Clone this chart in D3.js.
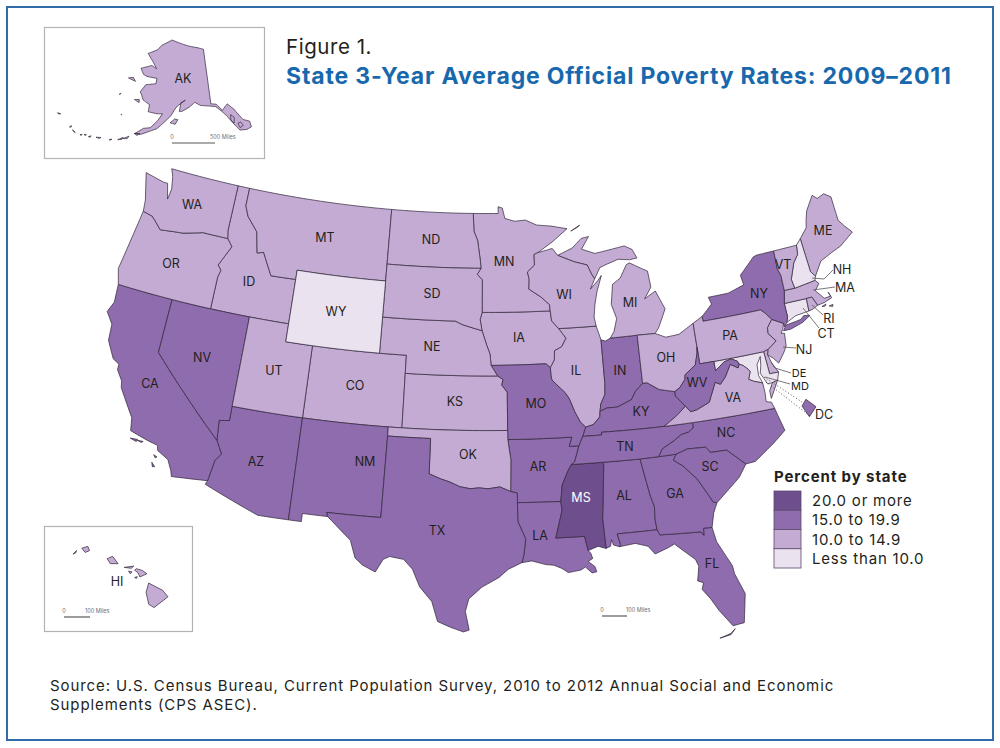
<!DOCTYPE html>
<html>
<head>
<meta charset="utf-8">
<script src="https://cdn.jsdelivr.net/npm/d3@7"></script>
<style>
  html, body { margin: 0; padding: 0; background: #fff; }
  svg { display: block; }
  text { font-family: Inter, "Open Sans", sans-serif; fill: #231f20; }
</style>
</head>
<body>
<svg id="map" width="1000" height="748"></svg>
<script>
// rate class per state: 0 = less than 10, 1 = 10-14.9, 2 = 15-19.9, 3 = 20 or more
const stateIds = ["AL","AK","AZ","AR","CA","CO","CT","DE","DC","FL","GA","HI","ID","IL","IN","IA","KS","KY","LA","ME","MD","MA","MI","MN","MS","MO","MT","NE","NV","NH","NJ","NM","NY","NC","ND","OH","OK","OR","PA","RI","SC","SD","TN","TX","UT","VT","VA","WA","WV","WI","WY"];
const stateClass = [2,1,2,2,2,1,0,1,2,2,2,1,1,1,2,1,1,2,2,1,0,1,1,1,3,2,1,1,2,0,1,2,2,2,1,1,1,1,1,1,2,1,2,2,1,1,1,1,2,1,0];
const classLabels = ["Less than 10.0","10.0 to 14.9","15.0 to 19.9","20.0 or more"];
const classColors = ["#ebe2f0","#c3abd3","#8f6cae","#6f4e8e"];

// shared borders, lon/lat
const stCroix = [[-92.29,46.66],[-92.29,46.07],[-92.87,45.7],[-92.75,45.3],[-92.8,44.75],[-91.9,44.3],[-91.25,43.85],[-91.22,43.5]];
const missIaWi = [[-91.22,43.5],[-91.15,42.95],[-90.65,42.5]];
const missIaIl = [[-90.65,42.5],[-90.15,41.95],[-90.5,41.5],[-91.05,41.3],[-91.1,40.8],[-91.42,40.38]];
const missMoIl = [[-91.42,40.38],[-91.4,39.93],[-91.35,39.7],[-91.05,39.45],[-90.45,38.96],[-90.18,38.63],[-89.85,37.9],[-89.5,37.3],[-89.15,37.0]];
const missMoKy = [[-89.15,37.0],[-89.4,36.5]];
const missMoTn = [[-89.4,36.5],[-89.7,36.0]];
const missArTn = [[-89.7,36.0],[-90.07,35.13],[-90.3,35.0]];
const missArMs = [[-90.3,35.0],[-90.6,34.6],[-91.0,33.9],[-91.15,33.0]];
const missLaMs = [[-91.15,33.0],[-91.1,32.5],[-91.4,31.6],[-91.6,31.0],[-89.73,31.0],[-89.55,30.2]];
const ohioIlKy = [[-89.15,37.0],[-88.6,37.1],[-88.1,37.5],[-88.05,37.8]];
const ohioInKy = [[-88.05,37.8],[-87.55,37.95],[-86.8,37.95],[-85.75,38.27],[-85.4,38.7],[-84.82,39.1]];
const ohioOhKy = [[-84.82,39.1],[-84.5,39.1],[-83.7,38.65],[-82.6,38.42]];
const ohioOhWv = [[-82.6,38.42],[-82.2,38.6],[-81.75,39.0],[-81.7,39.25],[-80.85,39.7],[-80.6,40.3],[-80.52,40.64]];
const kyWv = [[-82.6,38.42],[-82.6,38.17],[-82.0,37.54]];
const kyVa = [[-82.0,37.54],[-82.7,37.1],[-83.68,36.6]];
const tnKy = [[-83.68,36.6],[-88.07,36.65],[-88.07,36.5],[-89.4,36.5]];
const tnNc = [[-81.68,36.59],[-81.7,36.3],[-82.05,36.12],[-82.6,36.03],[-83.1,35.77],[-84.0,35.4],[-84.32,34.99]];
const ncSc = [[-83.11,35.0],[-82.3,35.2],[-81.05,35.15],[-80.78,34.82],[-79.67,34.8],[-78.55,33.86]];
const gaSc = [[-83.11,35.0],[-83.35,34.7],[-82.75,34.3],[-81.95,33.5],[-81.4,32.6],[-81.12,32.1],[-80.88,32.03]];
const gaAl = [[-85.6,34.98],[-85.18,32.87],[-85.0,32.3],[-85.05,31.55],[-85.0,31.0]];
const gaFl = [[-85.0,31.0],[-84.86,30.7],[-82.2,30.57],[-82.05,30.36],[-82.0,30.75],[-81.45,30.72]];
const alFl = [[-85.0,31.0],[-87.6,31.0],[-87.45,30.4],[-87.52,30.28]];
const alMs = [[-88.2,35.0],[-88.1,34.9],[-88.47,31.9],[-88.4,30.25]];
const txLa = [[-93.84,29.7],[-93.7,30.1],[-93.55,31.0],[-94.04,31.99],[-94.04,33.02]];
const redRiver = [[-94.48,33.64],[-95.2,33.9],[-96.0,33.8],[-96.6,33.85],[-97.2,33.8],[-97.9,33.9],[-98.6,34.15],[-99.2,34.3],[-100.0,34.56]];
const moKs = [[-94.62,37.0],[-94.61,39.1],[-95.0,39.5],[-94.9,39.8],[-95.3,40.0]];
const neMo = [[-95.3,40.0],[-95.77,40.58]];
const neIa = [[-95.77,40.58],[-95.85,41.2],[-96.1,41.7],[-96.45,42.49]];
const sdIa = [[-96.45,42.49],[-96.6,43.1],[-96.45,43.5]];
const sdMn = [[-96.45,43.5],[-96.45,45.3],[-96.85,45.6],[-96.56,45.94]];
const ndMn = [[-96.56,45.94],[-96.6,46.3],[-96.85,47.5],[-97.15,48.0],[-97.23,49.0]];
const neSd = [[-96.45,42.49],[-97.9,42.8],[-98.5,43.0],[-104.05,43.0]];
const wabash = [[-87.53,39.35],[-87.6,38.7],[-87.95,38.2],[-88.05,37.8]];
const wiMi = [[-90.4,46.55],[-89.1,46.13],[-88.1,45.9],[-87.8,45.35],[-87.6,45.1]];
const vaWv = [[-77.72,39.32],[-77.83,39.13],[-78.35,39.4],[-78.87,38.76],[-79.3,38.42],[-79.65,38.58],[-80.3,37.55],[-81.25,37.25],[-81.7,37.2],[-82.0,37.54]];
const potomacN = [[-79.48,39.2],[-78.75,39.6],[-78.2,39.68],[-77.8,39.5],[-77.72,39.32]];
const potomacS = [[-77.72,39.32],[-77.45,39.2],[-77.12,38.93],[-77.04,38.79],[-77.25,38.4],[-76.95,38.25],[-76.32,38.05]];
const delawareR = [[-74.7,41.36],[-75.13,40.97],[-75.2,40.65],[-74.73,40.15],[-75.42,39.8]];
const idMt = [[-116.05,49.0],[-116.05,48.0],[-115.7,47.45],[-114.75,46.7],[-114.4,45.55],[-113.9,45.65],[-113.45,45.05],[-113.0,44.45],[-111.05,44.48]];
const idOr = [[-117.03,42.0],[-117.03,43.8],[-116.9,44.2],[-117.2,44.45],[-116.85,45.0],[-116.46,45.6],[-116.92,46.0]];
const columbia = [[-116.92,46.0],[-118.98,46.0],[-119.3,45.93],[-120.5,45.7],[-121.2,45.65],[-122.3,45.55],[-122.8,45.9],[-123.2,46.15],[-124.0,46.27]];
const azCa = [[-114.72,32.72],[-114.5,33.9],[-114.15,34.3],[-114.63,35.0]];
const azNv = [[-114.63,35.0],[-114.75,36.1],[-114.05,36.2],[-114.05,37.0]];
const vtNh = [[-71.5,45.01],[-71.6,44.5],[-72.05,44.1],[-72.55,43.25],[-72.46,42.73]];
const meNh = [[-71.08,45.3],[-70.98,43.4],[-70.7,43.08]];
const nyVt = [[-73.35,45.01],[-73.4,44.0],[-73.25,43.6],[-73.27,42.75]];
const riMa = [[-71.8,42.02],[-71.38,42.02],[-71.2,41.67],[-71.12,41.5]];
const rev = a => a.slice().reverse();

const stateRings = {
  WA: [[[-122.76,49.0],[-117.03,49.0],[-117.04,46.42],[-116.92,46.0],...columbia.slice(1),[-124.1,46.9],[-124.7,48.38],[-123.1,48.15],[-122.75,48.15],[-122.4,47.3],[-122.3,47.9],[-122.5,48.6]]],
  OR: [[[-124.0,46.27],...rev(columbia),...rev(idOr),[-120.0,42.0],[-124.2,42.0],[-124.55,42.84]]],
  CA: [[[-124.2,42.0],[-120.0,42.0],[-120.0,39.0],...rev(azCa),[-117.12,32.53],[-117.25,32.85],[-117.6,33.4],[-118.4,33.75],[-118.5,34.03],[-119.2,34.15],[-120.5,34.45],[-120.65,35.15],[-121.9,36.6],[-122.0,36.96],[-122.5,37.5],[-122.5,37.8],[-123.0,38.0],[-123.7,38.9],[-123.8,39.8],[-124.4,40.4],[-124.1,41.0]],
       [[-120.4,34.05],[-119.9,34.08],[-119.95,33.95]],[[-119.9,34.03],[-119.5,34.05],[-119.6,33.97]],[[-118.6,33.48],[-118.35,33.4],[-118.45,33.33]],[[-118.6,33.05],[-118.35,32.85],[-118.5,32.82]]],
  NV: [[[-120.0,42.0],[-117.03,42.0],[-114.04,42.0],...rev(azNv),[-120.0,39.0]]],
  ID: [[[-117.03,49.0],...idMt,[-111.05,42.0],[-114.04,42.0],...idOr,[-117.04,46.42]]],
  MT: [[[-116.05,49.0],[-104.05,49.0],[-104.05,45.94],[-104.05,45.0],[-111.05,45.0],...rev(idMt)]],
  WY: [[[-111.05,45.0],[-104.05,45.0],[-104.05,43.0],[-104.05,41.0],[-111.05,41.0],[-111.05,42.0]]],
  UT: [[[-114.04,42.0],[-111.05,42.0],[-111.05,41.0],[-109.05,41.0],[-109.05,37.0],[-114.05,37.0]]],
  CO: [[[-109.05,41.0],[-102.05,41.0],[-102.05,40.0],[-102.04,37.0],[-103.0,37.0],[-109.05,37.0]]],
  AZ: [[[-114.05,37.0],[-109.05,37.0],[-109.05,31.33],[-111.07,31.33],[-114.82,32.5],...azCa,...azNv.slice(1)]],
  NM: [[[-109.05,37.0],[-103.0,37.0],[-103.0,36.5],[-103.05,32.0],[-106.62,32.0],[-106.53,31.78],[-108.2,31.78],[-108.2,31.33],[-109.05,31.33]]],
  ND: [[[-104.05,49.0],[-97.23,49.0],...rev(ndMn),[-104.05,45.94]]],
  SD: [[[-104.05,45.94],[-96.56,45.94],...rev(sdMn),...rev(sdIa),...neSd.slice(1)]],
  NE: [[...neSd,[-104.05,41.0],[-102.05,41.0],[-102.05,40.0],[-95.3,40.0],...neMo.slice(1),...neIa.slice(1,-1)]],
  KS: [[[-102.05,40.0],...rev(moKs),[-102.04,37.0]]],
  OK: [[[-103.0,37.0],[-102.04,37.0],[-94.62,37.0],[-94.62,36.5],[-94.43,35.4],...redRiver,[-100.0,36.5],[-103.0,36.5]]],
  TX: [[[-103.0,36.5],[-100.0,36.5],...rev(redRiver),[-94.04,33.55],...rev(txLa),[-94.7,29.35],[-95.3,28.9],[-96.4,28.35],[-97.2,27.7],[-97.4,27.0],[-97.15,25.96],[-97.5,25.85],[-98.3,26.1],[-99.1,26.4],[-99.5,27.5],[-100.3,28.3],[-100.8,29.25],[-101.4,29.77],[-102.3,29.88],[-102.7,29.7],[-103.15,28.97],[-104.0,29.3],[-104.5,29.65],[-104.9,30.6],[-106.0,31.4],[-106.53,31.78],[-106.62,32.0],[-103.05,32.0]]],
  MN: [[[-97.23,49.0],[-95.15,49.0],[-95.15,49.38],[-94.8,49.3],[-94.6,48.72],[-93.8,48.55],[-92.9,48.6],[-92.0,48.3],[-90.8,48.2],[-89.5,48.0],[-90.8,47.3],[-92.0,46.75],...stCroix,[-96.45,43.5],...sdMn.slice(1),...ndMn.slice(1,-1)]],
  IA: [[[-96.45,43.5],[-91.22,43.5],...missIaWi.slice(1),...missIaIl.slice(1),[-91.73,40.6],...neIa,...sdIa.slice(1,-1)]],
  MO: [[[-95.77,40.58],[-91.73,40.6],...missMoIl,...missMoKy.slice(1),...missMoTn.slice(1),[-90.37,36.0],[-90.15,36.5],[-94.62,36.5],...moKs,...neMo.slice(1)]],
  AR: [[[-94.62,36.5],[-90.15,36.5],[-90.37,36.0],...missArTn,...missArMs.slice(1),[-94.04,33.02],[-94.04,33.55],[-94.48,33.64],[-94.43,35.4]]],
  LA: [[[-94.04,33.02],...missLaMs,[-89.4,30.05],[-89.3,29.75],[-89.6,29.6],[-89.2,29.3],[-89.1,29.0],[-89.4,28.95],[-89.8,29.3],[-90.1,29.15],[-90.9,29.05],[-91.3,29.3],[-91.8,29.5],[-92.3,29.55],[-93.2,29.78],...txLa.slice(0,-1)]],
  WI: [[[-92.29,46.66],[-92.0,46.75],[-90.8,46.95],...wiMi,[-88.0,44.55],[-87.35,45.0],[-87.05,45.25],[-87.5,44.4],[-87.75,43.7],[-87.9,43.0],[-87.8,42.49],[-90.65,42.5],...rev(missIaWi).slice(1),...rev(stCroix).slice(1,-1)]],
  IL: [[[-90.65,42.5],[-87.8,42.49],[-87.53,41.71],...wabash,...rev(ohioIlKy).slice(1),...rev(missMoIl).slice(1),...rev(missIaIl).slice(1,-1)]],
  IN: [[[-87.53,41.71],[-87.2,41.62],[-86.82,41.76],[-84.8,41.76],[-84.82,39.1],...rev(ohioInKy).slice(1),...rev(wabash).slice(1)]],
  OH: [[[-84.8,41.76],[-83.45,41.73],[-82.7,41.45],[-81.7,41.5],[-80.52,41.98],...rev(ohioOhWv),...rev(ohioOhKy).slice(1)]],
  KY: [[...ohioIlKy,...ohioInKy.slice(1),...ohioOhKy.slice(1),...kyWv.slice(1),...kyVa.slice(1),...tnKy.slice(1)]],
  TN: [[[-83.68,36.6],[-81.68,36.59],...tnNc.slice(1),[-85.6,34.98],[-88.2,35.0],[-90.3,35.0],...rev(missArTn).slice(1),...rev(missMoTn).slice(1),...rev(tnKy).slice(1,-1)]],
  MS: [[...missArMs,...missLaMs.slice(1),[-88.9,30.4],...rev(alMs)]],
  AL: [[[-88.2,35.0],...gaAl,...alFl.slice(1),[-87.9,30.4],[-88.0,30.7],[-88.1,30.35],...rev(alMs).slice(0,-1)]],
  GA: [[...gaAl,...gaFl.slice(1),[-81.2,31.5],...rev(gaSc),[-84.32,34.99]]],
  FL: [[[-87.52,30.28],[-86.5,30.38],[-85.7,30.15],[-85.3,29.68],[-84.4,29.95],[-84.0,30.1],[-83.4,29.6],[-82.8,29.1],[-82.65,28.7],[-82.85,27.9],[-82.5,27.75],[-82.65,27.4],[-82.2,26.8],[-81.8,26.1],[-81.1,25.13],[-80.4,25.2],[-80.05,26.8],[-80.5,28.0],[-80.55,28.45],[-81.3,29.9],...rev(gaFl),...alFl.slice(1)],
       [[-81.0,24.95],[-81.3,24.72],[-82.0,24.55],[-81.3,24.66]]],
  SC: [[...ncSc,[-79.15,33.2],[-79.9,32.7],...rev(gaSc).slice(0,-1)]],
  NC: [[[-84.32,34.99],...rev(tnNc),[-75.87,36.55],[-75.5,35.25],[-76.5,34.65],[-77.9,33.9],...rev(ncSc)]],
  VA: [[[-83.68,36.6],[-81.68,36.59],[-75.87,36.55],[-76.0,36.92],[-76.35,37.0],[-76.3,37.5],[-76.32,38.05],...rev(potomacS),...vaWv.slice(1),...kyVa.slice(1)],
       [[-75.65,37.95],[-75.24,38.03],[-75.95,37.12],[-75.95,37.55]]],
  WV: [[[-80.52,40.64],[-80.52,39.72],[-79.48,39.72],...potomacN,...vaWv.slice(1),...rev(kyWv).slice(1),...ohioOhWv.slice(1,-1)]],
  MD: [[[-75.79,39.72],[-79.48,39.72],...potomacN,...potomacS.slice(1),[-76.5,38.5],[-76.45,39.1],[-76.1,39.5],[-76.2,39.0],[-76.35,38.6],[-76.0,37.95],[-75.65,37.95],[-75.24,38.03],[-75.05,38.45],[-75.7,38.46]]],
  DE: [[[-75.79,39.72],[-75.42,39.8],[-75.55,39.5],[-75.4,39.05],[-75.05,38.45],[-75.7,38.46]]],
  PA: [[[-80.52,41.98],[-79.76,42.27],[-79.76,42.0],[-75.35,42.0],[-75.05,41.75],...delawareR,[-75.79,39.72],[-79.48,39.72],[-80.52,39.72],[-80.52,40.64]]],
  NJ: [[[-73.9,41.0],...delawareR,[-75.55,39.5],[-75.2,39.25],[-74.9,38.93],[-74.4,39.4],[-74.1,39.75],[-74.0,40.45],[-74.25,40.5],[-74.05,40.7]]],
  NY: [[[-79.76,42.27],[-78.9,42.85],[-79.05,43.25],[-77.5,43.27],[-76.2,43.55],[-76.3,44.1],[-75.0,44.95],[-74.7,45.0],...nyVt,[-73.5,42.05],[-73.5,41.3],[-73.65,41.0],[-73.9,40.8],[-73.9,41.0],[-74.7,41.36],[-75.05,41.75],[-75.35,42.0],[-79.76,42.0]],
       [[-74.03,40.6],[-73.75,40.87],[-72.6,40.98],[-72.3,41.15],[-71.87,41.07],[-72.5,40.8],[-73.5,40.59]]],
  CT: [[[-73.5,42.05],[-71.8,42.02],[-71.85,41.32],[-72.9,41.25],[-73.65,41.0],[-73.5,41.3]]],
  RI: [[...riMa,[-71.5,41.37],[-71.85,41.32]]],
  MA: [[[-73.27,42.75],[-72.46,42.73],[-70.82,42.87],[-70.6,42.65],[-71.0,42.3],[-70.65,41.95],[-70.5,41.78],[-70.0,41.8],[-70.1,42.05],[-69.95,41.7],[-70.6,41.55],...rev(riMa),[-73.5,42.05]],
       [[-70.83,41.37],[-70.48,41.45],[-70.6,41.35]],[[-70.3,41.3],[-70.0,41.33],[-70.05,41.22]]],
  VT: [[...nyVt,...rev(vtNh)]],
  NH: [[...vtNh,[-70.82,42.87],...rev(meNh)]],
  ME: [[[-71.08,45.3],[-70.4,45.8],[-70.25,46.2],[-70.0,46.7],[-69.23,47.45],[-68.9,47.2],[-68.3,47.35],[-67.8,47.07],[-67.8,45.7],[-67.45,45.3],[-67.0,44.85],[-68.2,44.3],[-69.0,44.1],[-70.0,43.8],...rev(meNh)]],
  MI: [[[-86.82,41.76],[-86.5,42.1],[-86.2,42.8],[-86.5,43.6],[-86.25,44.7],[-85.6,45.0],[-85.0,45.7],[-84.75,45.78],[-83.4,45.2],[-83.3,44.3],[-83.9,43.7],[-83.0,44.05],[-82.45,43.0],[-82.9,42.35],[-83.15,42.0],[-83.45,41.73],[-84.8,41.76]],
       [[-90.4,46.55],[-89.2,46.9],[-88.4,47.4],[-87.8,47.47],[-88.45,46.8],[-87.4,46.5],[-85.0,46.75],[-84.4,46.5],[-84.1,46.0],[-84.7,45.95],[-85.6,46.05],[-86.5,45.85],[-87.1,45.7],...rev(wiMi)],
       [[-89.2,47.85],[-88.45,48.15],[-88.6,48.05]]]
};
const dcRings = [[[-77.12,38.93],[-77.04,39.0],[-76.91,38.89],[-77.04,38.79]]];
const akRings = [
  [[-141,69.65],[-141,60.3],[-139.2,60.1],[-137.5,58.9],[-136.5,59.4],[-135.5,59.8],[-133.8,58.7],[-131.8,56.6],[-130,56],[-130,55],[-131.5,54.8],[-133.5,55],[-134.6,56],[-136,57.4],[-137.5,58.6],[-139.5,59.7],[-142,60],[-144.5,60.2],[-146.5,60.8],[-148.5,60],[-151,59.3],[-151.8,59.3],[-151.3,60.8],[-149.8,61.2],[-152.5,60.2],[-153.5,59.5],[-154.5,58.5],[-156.5,57.3],[-158.5,56.1],[-160.5,55.5],[-163,54.7],[-164.8,54.6],[-162.5,55.8],[-160.5,56.1],[-158.5,57.5],[-157.3,58.7],[-159,58.6],[-162,58.7],[-162,59.9],[-164.5,60.5],[-165.3,61.2],[-166.1,61.7],[-164.7,63.1],[-161,63.6],[-161,64.5],[-165,64.5],[-166.5,64.7],[-168.1,65.6],[-164,66.5],[-161.8,66.1],[-163.7,67.1],[-166.8,68.35],[-163,69.3],[-161,70.3],[-156.5,71.35],[-152,70.85],[-148,70.4],[-144,70.05]],
  [[-133.3,55.4],[-132.2,55.6],[-132.7,56.3],[-133.6,56.2]],[[-135.5,57],[-134.7,56.4],[-134.3,57.3],[-135.2,57.9]],
  [[-154.6,57.3],[-153,57.1],[-152.2,57.9],[-153.2,58.0]],
  [[-171.7,63.4],[-168.8,63.2],[-170,63.75]],[[-167.4,60.2],[-165.6,59.9],[-165.8,60.4]],
  [[-164.9,54.65],[-163.2,54.8],[-164,54.4]],[[-167.8,53.3],[-166.2,53.95],[-166.5,53.5]],[[-169,52.9],[-167.8,53.5],[-168,53.1]],
  [[-170.3,57.15],[-170.05,57.22],[-170.1,57.1]],[[-172.9,60.3],[-172.5,60.55],[-172.6,60.3]],
  [[-171.3,52.45],[-170.6,52.7],[-170.8,52.5]],[[-174.9,52.1],[-173.6,52.35],[-174,52.1]],[[-176.9,51.7],[-176.3,52],[-176.4,51.7]],[[-178.2,51.7],[-177.7,51.9],[-177.7,51.7]],
  [[-179.2,51.4],[-178.7,51.6],[-178.8,51.4]],[[178.4,51.6],[179.4,51.4],[178.9,51.4]],
  [[177.3,51.8],[177.7,52.15],[177.7,51.85]],[[172.5,52.85],[173.4,52.98],[172.9,52.75]]
];
const hiRings = [
  [[-155.9,20.25],[-155.6,20.1],[-155.1,19.85],[-154.8,19.5],[-155.6,18.92],[-155.9,19.1],[-156.05,19.75]],
  [[-156.7,20.95],[-156.6,21.03],[-156.25,20.93],[-156,20.75],[-156.4,20.58],[-156.5,20.8]],
  [[-157.3,21.1],[-156.75,21.17],[-156.9,21.05]],[[-157.05,20.9],[-156.85,20.85],[-156.95,20.75]],[[-156.7,20.55],[-156.55,20.6],[-156.6,20.5]],
  [[-158.28,21.57],[-157.97,21.7],[-157.65,21.3],[-158.1,21.3]],
  [[-159.75,22.13],[-159.4,22.23],[-159.3,22],[-159.55,21.9]],[[-160.25,21.8],[-160.05,22],[-160.08,21.88]]
];
stateRings.DC = dcRings; stateRings.AK = akRings; stateRings.HI = hiRings;

// label spots, page pixels
const labelAt = {WA:[192,204],OR:[171,263],CA:[150,383],ID:[249,281],NV:[202,357],MT:[325,237],WY:[336,311],UT:[274,370],CO:[355,385],AZ:[256,461],NM:[365,461],ND:[431,239],SD:[432,293],NE:[432,346],KS:[455,401],OK:[468,454],TX:[437,530],MN:[504,261],IA:[519,337],MO:[536,403],AR:[538,466],LA:[540,535],WI:[564,294],IL:[576,370],MS:[581,497],AL:[624,495],TN:[625,446],KY:[641,411],IN:[620,370],OH:[666,357],MI:[630,302],GA:[675,493],FL:[712,563],SC:[710,466],NC:[726,432],VA:[733,397],WV:[697,382],PA:[730,335],NY:[759,293],ME:[823,230],VT:[783,264],AK:[183,78],HI:[117,581],NH:[842,269],MA:[845,287],RI:[829,318],CT:[826,333],NJ:[804,349],DE:[799,372],MD:[800,385.5],DC:[824,414]};
const smallLabels = ["DE","MD"];
const leaders = [
  [[812,278],[824,279],[833,270]],[[813,290],[835,287]],[[812,305],[823,315]],[[803,308],[819,328]],[[783,347],[796,348]],[[771,362],[775,368],[791,373]],[[765,377],[790,384]]
];
const dcDots = [[[764,377],[802,402]],[[766,382],[810,416]]];
const scaleBars = [{x:602,y:616,w:25,label:"100 Miles",tx:626},{x:172,y:143,w:43,label:"500 Miles",tx:210},{x:64,y:617,w:26,label:"100 Miles",tx:85}];
const insetBoxes = [[44.5,27.5,220,131],[44.5,526.5,148,105]];

const color = d3.scaleOrdinal().domain(d3.range(4)).range(classColors);
const classOf = new Map(stateIds.map((s, i) => [s, stateClass[i]]));

// split long segments so borders along parallels keep their curve
function densify(ring) {
  const out = [];
  ring.forEach((p, i) => {
    const q = ring[(i + 1) % ring.length];
    let dx = q[0] - p[0];
    if (Math.abs(dx) > 180) dx -= Math.sign(dx) * 360;
    const n = Math.max(1, Math.ceil(Math.max(Math.abs(dx), Math.abs(q[1] - p[1])) / 0.5));
    d3.range(n).forEach(k => out.push([p[0] + dx * k / n, p[1] + (q[1] - p[1]) * k / n]));
  });
  out.push(out[0]);
  // d3-geo wants clockwise rings
  return d3.geoArea({type: "Polygon", coordinates: [out]}) > 2 * Math.PI ? out.reverse() : out;
}
function feature(id) {
  return {type: "Feature", id: id, geometry: {type: "MultiPolygon", coordinates: stateRings[id].map(r => [densify(r)])}};
}

const lower48 = d3.geoConicEqualArea().parallels([29.5, 45.5]).rotate([96, 0]).center([0, 37.5]).scale(1033).translate([488, 421.5]);
const akProj = d3.geoConicEqualArea().parallels([55, 65]).rotate([150, 0]).center([0, 60])
  .fitExtent([[57, 40], [252, 140]], feature("AK"));
const hiProj = d3.geoConicEqualArea().parallels([8, 18]).rotate([157, 0]).center([0, 20])
  .fitExtent([[73, 546], [168, 608]], feature("HI"));
const dcProj = d3.geoConicEqualArea().parallels([29.5, 45.5]).rotate([96, 0]).center([0, 37.5])
  .fitExtent([[802, 399], [816, 417]], feature("DC"));
const projFor = id => id === "AK" ? akProj : id === "HI" ? hiProj : id === "DC" ? dcProj : lower48;

const svg = d3.select("#map");

svg.append("rect").attr("x", 7).attr("y", 7).attr("width", 986).attr("height", 733)
  .attr("fill", "none").attr("stroke", "#2f6ca8").attr("stroke-width", 2);

svg.selectAll("rect.inset").data(insetBoxes).enter().append("rect").attr("class", "inset")
  .attr("x", d => d[0]).attr("y", d => d[1]).attr("width", d => d[2]).attr("height", d => d[3])
  .attr("fill", "#fff").attr("stroke", "#b1b3b6").attr("stroke-width", 1.2);

svg.selectAll("path.state").data(stateIds).enter().append("path").attr("class", "state")
  .attr("d", id => d3.geoPath(projFor(id))(feature(id)))
  .attr("fill", id => color(classOf.get(id)))
  .attr("stroke", "#2f2438").attr("stroke-width", 0.7).attr("stroke-linejoin", "round");

const line = d3.line();
svg.selectAll("path.leader").data(leaders).enter().append("path").attr("class", "leader")
  .attr("d", line).attr("fill", "none").attr("stroke", "#555").attr("stroke-width", 0.8);
svg.selectAll("path.dots").data(dcDots).enter().append("path").attr("class", "dots")
  .attr("d", line).attr("fill", "none").attr("stroke", "#444").attr("stroke-width", 0.9).attr("stroke-dasharray", "1 2.2");

svg.selectAll("text.lab").data(stateIds).enter().append("text").attr("class", "lab")
  .attr("x", id => labelAt[id][0]).attr("y", id => labelAt[id][1] + 4.5)
  .attr("text-anchor", "middle")
  .attr("font-size", id => smallLabels.includes(id) ? 11 : 12.5)
  .style("fill", id => classOf.get(id) === 3 ? "#fff" : null)
  .text(d => d);

scaleBars.forEach(b => {
  svg.append("line").attr("x1", b.x).attr("x2", b.x + b.w).attr("y1", b.y).attr("y2", b.y)
    .attr("stroke", "#58595b").attr("stroke-width", 1.2);
  svg.append("text").attr("x", b.x).attr("y", b.y - 4).attr("text-anchor", "middle")
    .attr("font-size", 5.5).style("fill", "#6d6e71").text("0");
  svg.append("text").attr("x", b.tx).attr("y", b.y - 4)
    .attr("font-size", 5.5).style("fill", "#6d6e71").text(b.label);
});

svg.append("text").attr("x", 286).attr("y", 54).attr("font-size", 20.5).attr("letter-spacing", 0.55).text("Figure 1.");
svg.append("text").attr("x", 286).attr("y", 84).attr("font-size", 23).attr("font-weight", 700)
  .attr("letter-spacing", 0.82).style("fill", "#1768ac").text("State 3-Year Average Official Poverty Rates: 2009–2011");

// legend, top class first
const legendOrder = d3.range(3, -1, -1);
const legendY = d3.scaleBand().domain(legendOrder).range([491, 568]);
svg.append("text").attr("x", 774).attr("y", 482).attr("font-size", 15).attr("font-weight", 700)
  .attr("letter-spacing", 0.9).text("Percent by state");
svg.selectAll("rect.key").data(legendOrder).enter().append("rect").attr("class", "key")
  .attr("x", 774).attr("y", d => legendY(d)).attr("width", 27).attr("height", legendY.bandwidth())
  .attr("fill", d => color(d)).attr("stroke", "#5a4a6c").attr("stroke-width", 0.8);
svg.selectAll("text.key").data(legendOrder).enter().append("text").attr("class", "key")
  .attr("x", 812).attr("y", d => legendY(d) + 15).attr("font-size", 15).attr("letter-spacing", 0.8).text(d => classLabels[d]);

svg.append("text").attr("x", 50).attr("y", 691).attr("font-size", 15).attr("letter-spacing", 0.92)
  .text("Source: U.S. Census Bureau, Current Population Survey, 2010 to 2012 Annual Social and Economic");
svg.append("text").attr("x", 50).attr("y", 710).attr("font-size", 15).attr("letter-spacing", 0.92)
  .text("Supplements (CPS ASEC).");
</script>
</body>
</html>
